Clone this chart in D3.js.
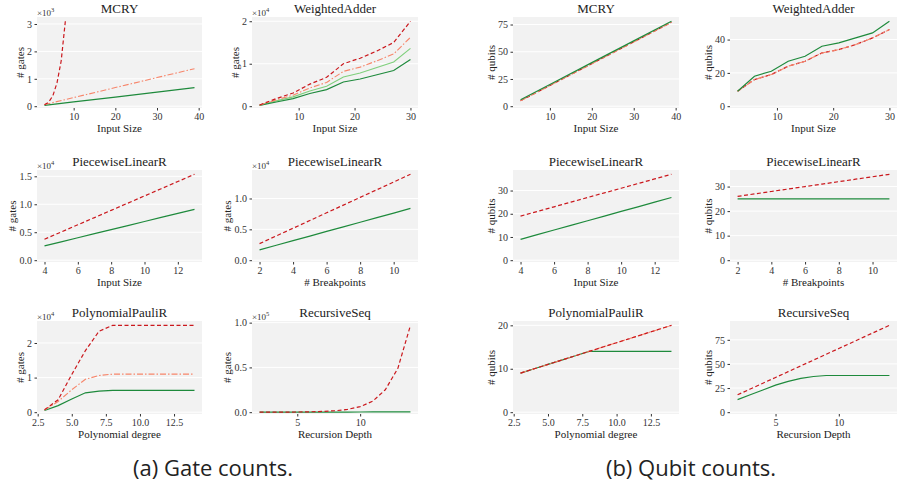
<!DOCTYPE html>
<html>
<head>
<meta charset="utf-8">
<script src="https://cdn.jsdelivr.net/npm/d3@7.9.0/dist/d3.min.js"></script>
<style>
  body { margin: 0; background: #fff; }
  svg { display: block; }
</style>
</head>
<body>
<svg id="chart" width="902" height="486"></svg>
<script>
// ---- data ----
// gate counts (left group)
const mcryRedX = [3, 4, 5, 6, 7, 8];
const mcryGatesRed = [50, 150, 380, 850, 1650, 3100];
const mcryX = [3, 10, 20, 30, 39];
const mcryGatesSalmon = [60, 315, 680, 1045, 1370];
const mcryGatesGreen = [30, 155, 335, 515, 675];

const waX = [3, 6, 9, 12, 15, 18, 21, 24, 27, 30];
const waGatesRed = [300, 1800, 3100, 5200, 6800, 10000, 11300, 13000, 15000, 20000];
const waGatesSalmon = [250, 1500, 2600, 4300, 5600, 8200, 9200, 10700, 12300, 16200];
const waGatesLight = [220, 1250, 2200, 3600, 4700, 6900, 7800, 9100, 10400, 13600];
const waGatesGreen = [180, 1000, 1800, 3000, 3900, 5700, 6400, 7400, 8400, 11000];

const plX = [4, 5, 6, 7, 8, 9, 10, 11, 12, 13];
const plGatesRed = [3750, 5040, 6330, 7620, 8910, 10200, 11490, 12780, 14070, 15360];
const plGatesGreen = [2560, 3290, 4010, 4740, 5470, 6190, 6920, 7650, 8370, 9100];

const bpX = [2, 3, 4, 5, 6, 7, 8, 9, 10, 11];
const bpGatesRed = [2690, 3940, 5180, 6430, 7680, 8930, 10180, 11420, 12670, 13920];
const bpGatesGreen = [1670, 2420, 3160, 3910, 4660, 5400, 6150, 6900, 7640, 8390];

const ppX = [3, 4, 5, 6, 7, 8, 9, 10, 11, 12, 13, 14];
const ppGatesRed = [700, 3600, 10900, 17800, 23400, 25100, 25100, 25100, 25100, 25100, 25100, 25100];
const ppGatesSalmon = [600, 3100, 6500, 9500, 10600, 11000, 11000, 11000, 11000, 11000, 11000, 11000];
const ppGatesGreen = [500, 1900, 3800, 5600, 6100, 6300, 6300, 6300, 6300, 6300, 6300, 6300];

const rsX = [2, 3, 4, 5, 6, 7, 8, 9, 10, 11, 12, 13, 14];
const rsGatesRed = [25, 50, 100, 200, 400, 800, 1600, 3100, 6200, 12300, 25000, 49000, 97000];
const rsGatesGreen = [20, 30, 40, 60, 80, 100, 130, 160, 200, 240, 290, 340, 400];

// qubit counts (right group)
const mcryQubitsRed = [5, 19, 39, 59, 77];
const mcryQubitsGreen = [6, 20, 40, 60, 78];
const waQubitsRed = [9, 16, 19, 24, 27, 32, 34, 37, 41, 46];
const waQubitsGreen = [9, 18, 21, 27, 30, 36, 38, 41, 44, 51];
const plQubitsRed = [19, 21, 23, 25, 27, 29, 31, 33, 35, 37];
const plQubitsGreen = [9, 11, 13, 15, 17, 19, 21, 23, 25, 27];
const bpQubitsRed = [26, 27, 28, 29, 30, 31, 32, 33, 34, 35];
const bpQubitsGreen = [25, 25, 25, 25, 25, 25, 25, 25, 25, 25];
const ppQubitsRed = [9, 10, 11, 12, 13, 14, 15, 16, 17, 18, 19, 20];
const ppQubitsGreen = [9, 10, 11, 12, 13, 14, 14, 14, 14, 14, 14, 14];
const rsQubitsRed = [18, 24, 30, 36, 42, 48, 54, 60, 66, 72, 78, 84, 90];
const rsQubitsGreen = [13, 18, 23, 28, 32, 35, 37, 38, 38, 38, 38, 38, 38];

// ---- layout ----
const colX = [[37, 202], [252, 418], [513, 679], [730, 897]];
const rowY = [[17, 108], [170, 262], [321, 414]];
const SERIF = "Liberation Serif";

const styles = {
  lightGreen: { color: "#7fcf7c", dash: null, w: 1.1 },
  darkGreen: { color: "#1e8a3c", dash: null, w: 1.2 },
  salmon: { color: "#f7856a", dash: "6,2,1.5,2", w: 1.1 },
  red: { color: "#cb181d", dash: "4,2.5", w: 1.2 }
};

const s = (x, y, style) => ({ x, y, style });

const panels = [
  { col: 0, row: 0, title: "MCRY", xlab: "Input Size", ylab: "# gates", exp: 3, yFmt: ".0f",
    xTicks: [10, 20, 30, 40], yTicks: [0, 1000, 2000, 3000],
    series: [s(mcryX, mcryGatesGreen, "darkGreen"), s(mcryX, mcryGatesSalmon, "salmon"), s(mcryRedX, mcryGatesRed, "red")] },
  { col: 1, row: 0, title: "WeightedAdder", xlab: "Input Size", ylab: "# gates", exp: 4, yFmt: ".0f",
    xTicks: [10, 20, 30], yTicks: [0, 10000, 20000],
    series: [s(waX, waGatesLight, "lightGreen"), s(waX, waGatesGreen, "darkGreen"), s(waX, waGatesSalmon, "salmon"), s(waX, waGatesRed, "red")] },
  { col: 0, row: 1, title: "PiecewiseLinearR", xlab: "Input Size", ylab: "# gates", exp: 4, yFmt: ".1f",
    xTicks: [4, 6, 8, 10, 12], yTicks: [0, 5000, 10000, 15000],
    series: [s(plX, plGatesGreen, "darkGreen"), s(plX, plGatesRed, "red")] },
  { col: 1, row: 1, title: "PiecewiseLinearR", xlab: "# Breakpoints", ylab: "# gates", exp: 4, yFmt: ".1f",
    xTicks: [2, 4, 6, 8, 10], yTicks: [0, 5000, 10000],
    series: [s(bpX, bpGatesGreen, "darkGreen"), s(bpX, bpGatesRed, "red")] },
  { col: 0, row: 2, title: "PolynomialPauliR", xlab: "Polynomial degree", ylab: "# gates", exp: 4, yFmt: ".0f",
    xTicks: [2.5, 5, 7.5, 10, 12.5], xFmt: ".1f", yTicks: [0, 10000, 20000],
    series: [s(ppX, ppGatesGreen, "darkGreen"), s(ppX, ppGatesSalmon, "salmon"), s(ppX, ppGatesRed, "red")] },
  { col: 1, row: 2, title: "RecursiveSeq", xlab: "Recursion Depth", ylab: "# gates", exp: 5, yFmt: ".1f",
    xTicks: [5, 10], yTicks: [0, 50000, 100000],
    series: [s(rsX, rsGatesGreen, "darkGreen"), s(rsX, rsGatesRed, "red")] },

  { col: 2, row: 0, title: "MCRY", xlab: "Input Size", ylab: "# qubits",
    xTicks: [10, 20, 30, 40], yTicks: [0, 25, 50, 75],
    series: [s(mcryX, mcryQubitsRed, "red"), s(mcryX, mcryQubitsRed, "salmon"), s(mcryX, mcryQubitsGreen, "darkGreen")] },
  { col: 3, row: 0, title: "WeightedAdder", xlab: "Input Size", ylab: "# qubits",
    xTicks: [10, 20, 30], yTicks: [0, 20, 40],
    series: [s(waX, waQubitsRed, "red"), s(waX, waQubitsRed, "salmon"), s(waX, waQubitsGreen, "darkGreen")] },
  { col: 2, row: 1, title: "PiecewiseLinearR", xlab: "Input Size", ylab: "# qubits",
    xTicks: [4, 6, 8, 10, 12], yTicks: [0, 10, 20, 30],
    series: [s(plX, plQubitsGreen, "darkGreen"), s(plX, plQubitsRed, "red")] },
  { col: 3, row: 1, title: "PiecewiseLinearR", xlab: "# Breakpoints", ylab: "# qubits",
    xTicks: [2, 4, 6, 8, 10], yTicks: [0, 10, 20, 30],
    series: [s(bpX, bpQubitsGreen, "darkGreen"), s(bpX, bpQubitsRed, "red")] },
  { col: 2, row: 2, title: "PolynomialPauliR", xlab: "Polynomial degree", ylab: "# qubits",
    xTicks: [2.5, 5, 7.5, 10, 12.5], xFmt: ".1f", yTicks: [0, 10, 20],
    series: [s(ppX, ppQubitsGreen, "darkGreen"), s(ppX, ppQubitsRed, "salmon"), s(ppX, ppQubitsRed, "red")] },
  { col: 3, row: 2, title: "RecursiveSeq", xlab: "Recursion Depth", ylab: "# qubits",
    xTicks: [5, 10], yTicks: [0, 25, 50, 75],
    series: [s(rsX, rsQubitsGreen, "darkGreen"), s(rsX, rsQubitsRed, "red")] }
];

const svg = d3.select("#chart");

panels.forEach((p, i) => {
  const [x0, x1] = colX[p.col];
  const [y0, y1] = rowY[p.row];

  const allX = p.series.flatMap(d => d.x);
  const allY = p.series.flatMap(d => d.y);
  const xmin = d3.min(allX), xmax = d3.max(allX);
  const pad = (xmax - xmin) * 0.05;
  const x = d3.scaleLinear().domain([xmin - pad, xmax + pad]).range([x0, x1]);
  const top = d3.max(allY) * 1.05;
  const y = d3.scaleLinear().domain([-0.02 * top, top]).range([y1, y0]);

  const g = svg.append("g");

  // panel background + horizontal grid
  g.append("rect")
    .attr("x", x0).attr("y", y0)
    .attr("width", x1 - x0).attr("height", y1 - y0)
    .attr("fill", "#f2f2f2");
  g.selectAll(".grid")
    .data(p.yTicks)
    .join("line")
    .attr("x1", x0).attr("x2", x1)
    .attr("y1", d => y(d)).attr("y2", d => y(d))
    .attr("stroke", "#fff").attr("stroke-width", 1);

  // lines, clipped to the panel
  const clipId = "clip" + i;
  g.append("clipPath").attr("id", clipId)
    .append("rect").attr("x", x0).attr("y", y0)
    .attr("width", x1 - x0).attr("height", y1 - y0);

  const line = d3.line().x(d => x(d[0])).y(d => y(d[1]));
  const lines = g.append("g").attr("clip-path", `url(#${clipId})`);
  p.series.forEach(ser => {
    const st = styles[ser.style];
    lines.append("path")
      .datum(d3.zip(ser.x, ser.y))
      .attr("d", line)
      .attr("fill", "none")
      .attr("stroke", st.color)
      .attr("stroke-width", st.w)
      .attr("stroke-dasharray", st.dash);
  });

  // axes
  const scale = p.exp ? Math.pow(10, p.exp) : 1;
  const yFmt = d3.format(p.yFmt || ".0f");
  const yAxis = d3.axisLeft(y).tickValues(p.yTicks)
    .tickSize(2.5).tickPadding(2.5)
    .tickFormat(d => yFmt(d / scale));
  const xAxis = d3.axisBottom(x).tickValues(p.xTicks)
    .tickSize(2.5).tickPadding(2)
    .tickFormat(d3.format(p.xFmt || ".0f"));

  const ya = g.append("g").attr("transform", `translate(${x0},0)`).call(yAxis);
  const xa = g.append("g").attr("transform", `translate(0,${y1})`).call(xAxis);
  [ya, xa].forEach(a => {
    a.select(".domain").remove();
    a.attr("font-family", SERIF).attr("font-size", 10);
    a.selectAll("line").attr("stroke", "#333");
    a.selectAll("text").attr("font-family", SERIF).attr("fill", "#333");
  });

  // widest y tick label decides where the axis title goes
  let maxW = 0;
  ya.selectAll("text").each(function() {
    maxW = Math.max(maxW, this.getComputedTextLength());
  });

  g.append("text")
    .attr("transform", `translate(${x0 - 5 - maxW - 7},${(y0 + y1) / 2}) rotate(-90)`)
    .attr("dy", "0.35em")
    .attr("text-anchor", "middle")
    .attr("font-family", SERIF)
    .attr("font-size", 11)
    .attr("fill", "#222")
    .text(p.ylab);

  g.append("text")
    .attr("x", (x0 + x1) / 2).attr("y", y1 + 24)
    .attr("text-anchor", "middle")
    .attr("font-family", SERIF)
    .attr("font-size", 11)
    .attr("fill", "#222")
    .text(p.xlab);

  g.append("text")
    .attr("x", (x0 + x1) / 2).attr("y", y0 - 4)
    .attr("text-anchor", "middle")
    .attr("font-family", SERIF)
    .attr("font-size", 13)
    .attr("fill", "#222")
    .text(p.title);

  if (p.exp) {
    const e = g.append("text")
      .attr("x", x0).attr("y", y0 - 1.5)
      .attr("font-family", SERIF)
      .attr("font-size", 9)
      .attr("fill", "#333");
    e.append("tspan").text("×10");
    e.append("tspan").attr("dy", -4).attr("font-size", 6.5).text(p.exp);
  }
});

// sub-captions
const captions = [
  { x: 213, text: "(a) Gate counts." },
  { x: 691, text: "(b) Qubit counts." }
];
svg.selectAll(".caption")
  .data(captions)
  .join("text")
  .attr("x", d => d.x).attr("y", 476)
  .attr("text-anchor", "middle")
  .attr("font-family", "Open Sans")
  .attr("font-size", 22)
  .attr("fill", "#222")
  .text(d => d.text);
</script>
</body>
</html>
